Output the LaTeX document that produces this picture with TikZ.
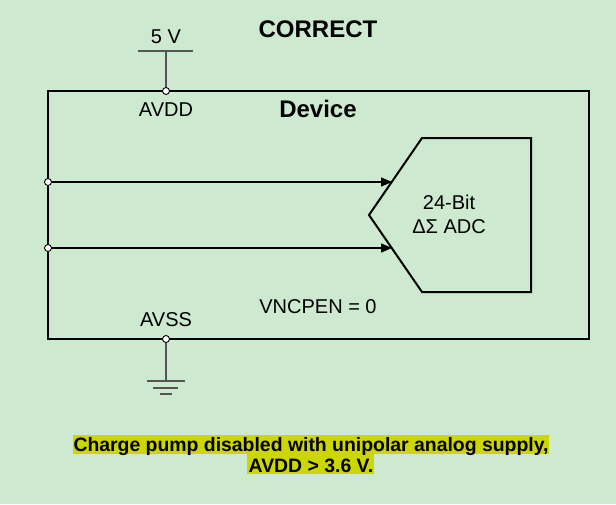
\documentclass[tikz,border=0pt]{standalone}
\usepackage{fontspec}
\setmainfont{Liberation Sans}
\usetikzlibrary{arrows.meta}
\definecolor{bg}{RGB}{205,233,208}
\definecolor{hl}{RGB}{204,214,0}
\definecolor{wire}{RGB}{85,85,85}
\tikzset{
  lbl/.style={anchor=base,inner sep=0pt,font=\fontsize{20}{24}\selectfont},
  blbl/.style={anchor=base,inner sep=0pt,font=\fontsize{24}{28}\selectfont\bfseries},
  note/.style={anchor=base,inner sep=0pt,font=\fontsize{19.4}{23}\selectfont\bfseries},
  pinc/.style={circle,draw=black,fill=white,line width=0.9pt,minimum size=7pt,inner sep=0pt},
  border/.style={draw=black,line width=2pt},
  sig/.style={draw=black,line width=1.3pt,-{Triangle[length=11pt,width=9pt]}},
  supply/.style={draw=wire,line width=1.3pt}
}
\begin{document}
\begin{tikzpicture}[x=1pt,y=-1pt]
\fill[bg] (0,0) rectangle (616,504);
\useasboundingbox (0,0) rectangle (616,504);
% device box
\draw[border] (48,91) rectangle (589,339);
% ADC
\draw[border,line join=miter] (422,138) -- (531,138) -- (531,292) -- (422,292) -- (369,215) -- cycle;
\coordinate (in1) at (392,182);
\coordinate (in2) at (392,248);
% pins
\node[pinc] (avdd) at (166,91) {};
\node[pinc] (avss) at (166,339) {};
\node[pinc] (p1) at (48,182) {};
\node[pinc] (p2) at (48,248) {};
% supply
\coordinate (vtop) at (166,51);
\coordinate (vl) at (138,51);
\coordinate (vr) at (193,51);
\draw[supply] (vl) -- (vr);
\draw[supply] (vtop) -- (avdd);
% ground
\coordinate (gnd) at (166,381);
\draw[supply] (avss) -- (gnd);
\draw[supply] (147,381) -- (185,381);
\draw[supply] (153,388) -- (178,388);
\draw[supply] (160,394) -- (172,394);
% signals
\draw[sig] (p1) -- (in1);
\draw[sig] (p2) -- (in2);
% labels
\node[lbl] (l5v) at (166,43) {5 V};
\node[lbl] (lavdd) at (166,116) {AVDD};
\node[lbl] (lavss) at (166,326) {AVSS};
\node[blbl] (lcorrect) at (318,37) {CORRECT};
\node[blbl] (ldev) at (318,117) {Device};
\node[lbl] (lvnc) at (318,313) {VNCPEN = 0};
\node[lbl] (ladc1) at (449,209) {24-Bit};
\node[lbl] (ladc2) at (449,233) {ΔΣ ADC};
% note
\fill[hl] (73,435) rectangle (549,454);
\fill[hl] (247,454) rectangle (374,474);
\node[note] (n1) at (311,451) {Charge pump disabled with unipolar analog supply,};
\node[note] (n2) at (311,472) {AVDD > 3.6 V.};
\end{tikzpicture}
\end{document}
